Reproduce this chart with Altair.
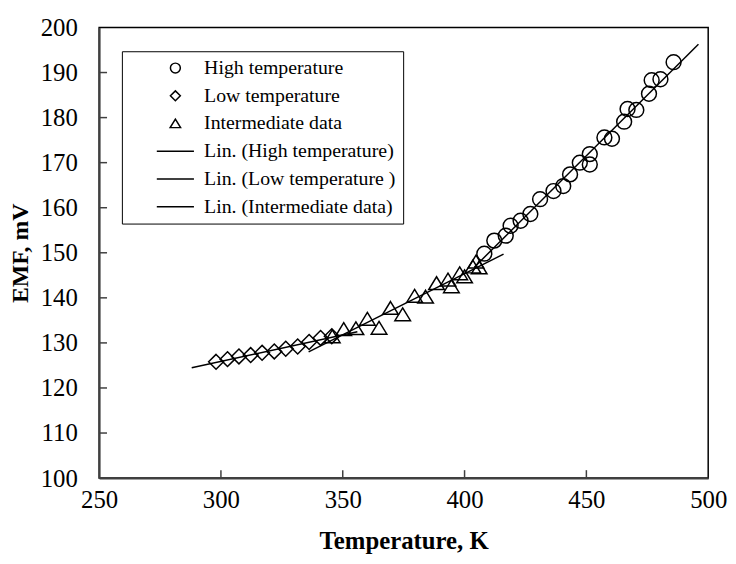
import altair as alt
import pandas as pd

series_names = ["High temperature", "Low temperature", "Intermediate data",
                "Lin. (High temperature)", "Lin. (Low temperature )", "Lin. (Intermediate data)"]

high_T = [408.1, 412.2, 416.9, 418.9, 423.0, 427.0, 431.0, 436.5, 440.5, 443.3, 447.3,
          451.4, 451.4, 457.4, 460.5, 465.5, 466.9, 470.5, 475.7, 476.8, 480.4, 485.8]
high_E = [149.8, 152.7, 153.8, 156.0, 157.1, 158.6, 161.9, 163.7, 164.8, 167.4, 170.0,
          169.6, 171.9, 175.6, 175.3, 179.1, 181.9, 181.7, 185.3, 188.3, 188.5, 192.3]

low_T = [298.0, 302.7, 307.4, 312.2, 316.9, 321.9, 326.6, 331.5, 336.2, 340.9, 345.5]
low_E = [125.8, 126.4, 127.0, 127.3, 127.8, 128.1, 128.7, 129.2, 130.2, 131.1, 131.5]

mid_T = [345.7, 350.4, 355.4, 360.1, 364.9, 369.6, 374.6, 379.5, 384.0, 388.5, 393.2,
         394.6, 398.0, 400.0, 403.4, 404.7, 406.0]
mid_E = [131.4, 133.0, 133.2, 135.3, 133.3, 137.7, 136.3, 140.4, 140.2, 143.2, 144.0,
         142.5, 145.4, 144.7, 146.9, 148.0, 146.7]

fit_extent_high = [404, 496]
fit_extent_low = [288, 356]
fit_extent_mid = [336, 416]

x_tick_labels = [250, 300, 350, 400, 450, 500]
y_tick_labels = [100, 110, 120, 130, 140, 150, 160, 170, 180, 190, 200]
x_inner_ticks = [300, 350, 400, 450]
y_inner_ticks = [110, 120, 130, 140, 150, 160, 170, 180, 190]

rows = []
for name, ts, es in [(series_names[0], high_T, high_E),
                     (series_names[1], low_T, low_E),
                     (series_names[2], mid_T, mid_E)]:
    rows += [{"series": name, "T": t, "E": e} for t, e in zip(ts, es)]
df = pd.DataFrame(rows)

circle = "M0,-0.667A0.667,0.667,0,1,1,0,0.667A0.667,0.667,0,1,1,0,-0.667Z"
diamond = "M0,-0.667L0.667,0L0,0.667L-0.667,0Z"
triangle = "M0,-0.6L0.7,0.55L-0.7,0.55Z"
stroke = "M-2.5,0L2.5,0"
shape_paths = [circle, diamond, triangle, stroke, stroke, stroke]

W, H = 615, 455
FONT = "Liberation Serif"

x_scale = alt.Scale(domain=[250, 500], nice=False, zero=False)
y_scale = alt.Scale(domain=[100, 200], nice=False, zero=False)

x_axis = alt.Axis(title="Temperature, K", values=x_tick_labels, ticks=False, grid=False,
                  labelFont=FONT, labelFontSize=25, labelColor="black", labelPadding=10,
                  titleFont=FONT, titleFontSize=25, titleFontWeight="bold", titleColor="black",
                  titlePadding=16, domainColor="#404040", domainWidth=2, labelFlush=False)
y_axis = alt.Axis(title="EMF, mV", values=y_tick_labels, ticks=False, grid=False,
                  labelFont=FONT, labelFontSize=25, labelColor="black", labelPadding=22,
                  titleFont=FONT, titleFontSize=24, titleFontWeight="bold", titleColor="black",
                  titlePadding=8, domainColor="#404040", domainWidth=2, labelFlush=False)

legend = alt.Legend(title=None, orient="none", legendX=23, legendY=24,
                    strokeColor="black", fillColor="white", padding=7,
                    labelFont=FONT, labelFontSize=20, labelColor="black", labelLimit=400,
                    symbolSize=225, symbolStrokeWidth=1.5, symbolStrokeColor="black",
                    symbolOffset=37, labelOffset=19, rowPadding=8)

points = alt.Chart(df).mark_point(filled=False, size=506, strokeWidth=1.5, color="black",
                                  opacity=1).encode(
    x=alt.X("T:Q", scale=x_scale, axis=x_axis),
    y=alt.Y("E:Q", scale=y_scale, axis=y_axis),
    shape=alt.Shape("series:N", scale=alt.Scale(domain=series_names, range=shape_paths),
                    legend=legend),
)


def fit(name, extent):
    return alt.Chart(df).transform_filter(alt.datum.series == name).transform_regression(
        "T", "E", extent=extent
    ).mark_line(color="black", strokeWidth=1.5).encode(
        x=alt.X("T:Q", scale=x_scale, axis=x_axis),
        y=alt.Y("E:Q", scale=y_scale, axis=y_axis),
    )


xt = alt.Chart(pd.DataFrame({"T": x_inner_ticks})).mark_rule(color="#404040", strokeWidth=1.5).encode(
    x=alt.X("T:Q", scale=x_scale, axis=x_axis),
    y=alt.value(H - 8), y2=alt.value(H),
)
yt = alt.Chart(pd.DataFrame({"E": y_inner_ticks})).mark_rule(color="#404040", strokeWidth=1.5).encode(
    y=alt.Y("E:Q", scale=y_scale, axis=y_axis),
    x=alt.value(0), x2=alt.value(8),
)

chart = alt.layer(
    xt, yt,
    fit(series_names[1], fit_extent_low),
    fit(series_names[2], fit_extent_mid),
    fit(series_names[0], fit_extent_high),
    points,
).properties(
    width=W, height=H,
    autosize=alt.AutoSizeParams(type="none"),
    padding={"left": 92, "top": 17, "right": 20, "bottom": 76},
    background="white",
).configure_view(stroke="black", strokeWidth=1.5)

chart.save("out.html", embed_options={"renderer": "svg", "actions": False})
